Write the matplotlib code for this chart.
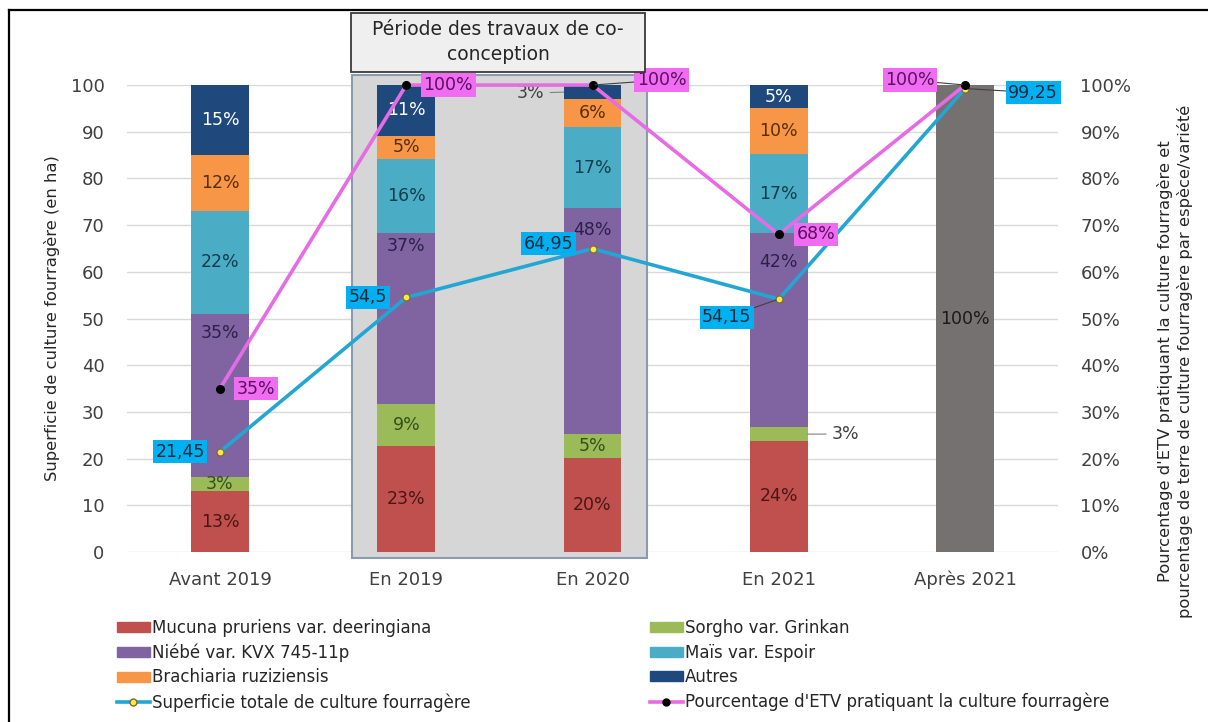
import matplotlib
matplotlib.use("Agg")
import matplotlib.pyplot as plt
import numpy as np
from matplotlib.patches import Patch, Rectangle
from matplotlib.lines import Line2D

plt.rcParams["font.family"] = ["DejaVu Sans"]

categories = ["Avant 2019", "En 2019", "En 2020", "En 2021", "Après 2021"]

# parts of the forage area per species (in %)
mucuna = [13, 23, 20, 24, 0]
sorgho = [3, 9, 5, 3, 0]
niebe = [35, 37, 48, 42, 0]
mais = [22, 16, 17, 17, 0]
brachiaria = [12, 5, 6, 10, 0]
autres = [15, 11, 3, 5, 0]
apres = [0, 0, 0, 0, 100]

superficie = [21.45, 54.5, 64.95, 54.15, 99.25]
pct_etv = [35, 100, 100, 68, 100]

series_names = ["Mucuna pruriens var. deeringiana", "Sorgho var. Grinkan",
                "Niébé var. KVX 745-11p", "Maïs var. Espoir",
                "Brachiaria ruziziensis", "Autres"]
colors = ["#C0504D", "#9BBB59", "#8064A2", "#4BACC6", "#F79646", "#1F497D"]
text_colors = ["#4a1614", "#33501a", "#2e1f4a", "#123e4c", "#5a2e08", "white"]

LBL = 12.5

fig = plt.figure(figsize=(12.08, 7.22), dpi=100)
ax = fig.add_axes([0.105, 0.2355, 0.771, 0.6467])
ax2 = ax.twinx()

x = np.arange(len(categories))
w = 0.31

stack = np.array([mucuna, sorgho, niebe, mais, brachiaria, autres], dtype=float)
tot = stack.sum(axis=0)
shares = np.zeros_like(stack)
np.divide(stack * 100, tot, out=shares, where=tot > 0)

# shaded "co-conception" period
ax.add_patch(Rectangle((0.71, -1.3), 1.58, 103.4, facecolor="#D6D6D6",
                       edgecolor="#8C9AB0", lw=1.5, zorder=1, clip_on=False))

niebe_label_y = [47, 65.5, 69, 62]
bottom = np.zeros(len(categories))
for i, row in enumerate(shares):
    ax.bar(x, row, w, bottom=bottom, color=colors[i], zorder=2)
    for j in range(len(categories)):
        v = stack[i, j]
        if v <= 0:
            continue
        yc = bottom[j] + row[j] / 2
        if i == 2:
            yc = niebe_label_y[j]
        if (i, j) == (5, 2):
            ax.annotate(f"{int(v)}%", (x[j] - w / 2, yc), xytext=(-19, -1),
                        textcoords="offset pixels", ha="right", va="center",
                        fontsize=LBL, color="#404040", zorder=5,
                        arrowprops=dict(arrowstyle="-", color="#808080", lw=0.8,
                                        shrinkA=2, shrinkB=0))
        elif (i, j) == (1, 3):
            ax.annotate(f"{int(v)}%", (x[j] + w / 2, yc), xytext=(24, 0),
                        textcoords="offset pixels", ha="left", va="center",
                        fontsize=LBL, color="#404040", zorder=5,
                        arrowprops=dict(arrowstyle="-", color="#808080", lw=0.8,
                                        shrinkA=2, shrinkB=0))
        else:
            ax.text(x[j], yc, f"{int(v)}%", ha="center", va="center",
                    fontsize=LBL, color=text_colors[i], zorder=5)
    bottom += row

ax.bar(x, apres, w, color="#767171", zorder=2)
ax.text(x[4], apres[4] / 2, f"{apres[4]}%", ha="center", va="center",
        fontsize=LBL, color="#1a1a1a", zorder=5)

# total area line (left axis)
ax.plot(x, superficie, color="#22A6D3", lw=2.6, marker="o", ms=5,
        mfc="#FFE84D", mec="#7a6a20", mew=0.8, zorder=4, clip_on=False)
sup_off = [(-40, 0), (-38, 0), (-44, 5), (-52, -18), (68, -4)]
sup_lead = [False, False, False, True, True]
for j, v in enumerate(superficie):
    ax.annotate(f"{v:g}".replace(".", ","), (x[j], v), xytext=sup_off[j],
                textcoords="offset pixels", ha="center", va="center",
                fontsize=LBL, color="#1a2a3a", zorder=6,
                bbox=dict(boxstyle="square,pad=0.15", fc="#00B0F0", ec="none"),
                arrowprops=dict(arrowstyle="-", color="#404040", lw=0.8,
                                shrinkA=0, shrinkB=2) if sup_lead[j] else None)

# percentage of ETV line (right axis)
ax2.plot(x, pct_etv, color="#E56CE5", lw=2.6, marker="o", ms=5.5,
         mfc="black", mec="black", zorder=4, clip_on=False)
pct_off = [(36, 0), (42, 0), (69, 5), (37, 0), (-55, 5)]
pct_lead = [False, False, True, False, True]
for j, v in enumerate(pct_etv):
    ax2.annotate(f"{v}%", (x[j], v), xytext=pct_off[j],
                 textcoords="offset pixels", ha="center", va="center",
                 fontsize=LBL, color="#5a1060", zorder=6,
                 bbox=dict(boxstyle="square,pad=0.15", fc="#F06CF0", ec="none"),
                 arrowprops=dict(arrowstyle="-", color="#404040", lw=0.8,
                                 shrinkA=0, shrinkB=2) if pct_lead[j] else None)

ax.set_xlim(-0.5, 4.5)
ax.set_ylim(0, 100)
ax2.set_ylim(0, 100)
ax.set_yticks(range(0, 101, 10))
ax2.set_yticks(range(0, 101, 10))
ax2.set_yticklabels([f"{t}%" for t in range(0, 101, 10)])
ax.set_xticks(x)
ax.set_xticklabels(categories, va="baseline")
ax.grid(axis="y", color="#D9D9D9", lw=1)
ax.set_axisbelow(True)
for a in (ax, ax2):
    for s in a.spines.values():
        s.set_visible(False)
    a.tick_params(length=0, labelsize=13, colors="#404040")
ax.tick_params(axis="y", pad=16)
ax2.tick_params(axis="y", pad=16)
ax.tick_params(axis="x", pad=24)

ax.set_ylabel("Superficie de culture fourragère (en ha)", fontsize=11.8,
              color="#262626", labelpad=8)
fig.text(1175 / 1208, 0.5, "Pourcentage d'ETV pratiquant la culture fourragère et\n"
         "pourcentage de terre de culture fourragère par espèce/variété",
         rotation=90, ha="center", va="center", fontsize=11.8, color="#262626",
         linespacing=1.3)

# title box for the period
fig.patches.append(Rectangle((351 / 1208, 1 - 72 / 722), 294 / 1208, 59 / 722,
                             transform=fig.transFigure, facecolor="#EFEFEF",
                             edgecolor="#3a3a3a", lw=1.3))
fig.text(498 / 1208, 1 - 42 / 722, "Période des travaux de co-\nconception",
         ha="center", va="center", fontsize=13.5, color="#262626", linespacing=1.35)

# outer frame
fig.add_artist(Line2D([0.0075, 0.0075], [0, 0.986], transform=fig.transFigure,
                      color="black", lw=1.6))
fig.add_artist(Line2D([0.0075, 1], [0.986, 0.986], transform=fig.transFigure,
                      color="black", lw=1.6))

line_sup = Line2D([], [], color="#22A6D3", lw=2.6, marker="o", ms=5,
                  mfc="#FFE84D", mec="#7a6a20")
line_pct = Line2D([], [], color="#E56CE5", lw=2.6, marker="o", ms=5,
                  mfc="black", mec="black")
left_h = [Patch(color=colors[0]), Patch(color=colors[2]), Patch(color=colors[4]), line_sup]
left_l = [series_names[0], series_names[2], series_names[4],
          "Superficie totale de culture fourragère"]
right_h = [Patch(color=colors[1]), Patch(color=colors[3]), Patch(color=colors[5]), line_pct]
right_l = [series_names[1], series_names[3], series_names[5],
           "Pourcentage d'ETV pratiquant la culture fourragère"]
for hs, ls, xa in ((left_h, left_l, 117 / 1208), (right_h, right_l, 650 / 1208)):
    fig.legend(hs, ls, loc="upper left", bbox_to_anchor=(xa, 1 - 619 / 722),
               frameon=False, fontsize=12, labelspacing=0.39, handlelength=1.95,
               handleheight=0.55, handletextpad=0.15, borderpad=0, borderaxespad=0,
               labelcolor="#262626")

fig.savefig("out.png", dpi=100)
